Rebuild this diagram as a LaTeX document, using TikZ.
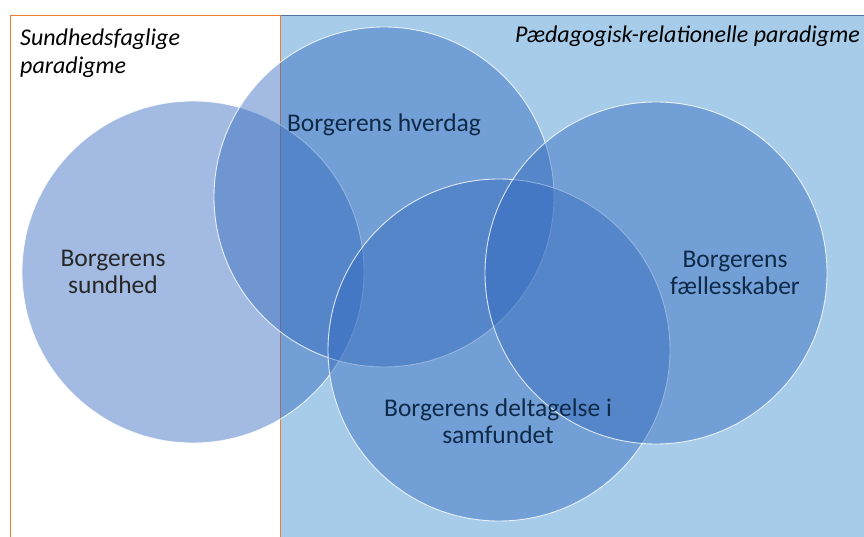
\documentclass[tikz,border=0pt]{standalone}
\usepackage{fontspec}
\setmainfont{Carlito}
\definecolor{orangeline}{RGB}{237,125,49}
\definecolor{paleblue}{RGB}{167,204,233}
\definecolor{paleborder}{RGB}{84,115,165}
\definecolor{circblue}{RGB}{50,105,190}
\definecolor{navytext}{RGB}{14,42,72}
\definecolor{graytext}{RGB}{38,38,38}
\tikzset{
  venn/.style={circle, minimum size=342pt, inner sep=0pt, fill=circblue, fill opacity=0.45, draw=white, draw opacity=0.8, line width=0.9pt},
  lbl/.style={font=\fontsize{25.5}{26.5}\selectfont, text=navytext, align=center, inner sep=0pt},
  ttl/.style={font=\fontsize{24}{28}\selectfont\itshape, text=black, inner sep=0pt}
}
\begin{document}
\begin{tikzpicture}[x=1pt,y=-1pt]
\useasboundingbox (0,0) rectangle (864,537);
\begin{scope}
\clip (0,0) rectangle (864,537);
\node[draw=paleborder, fill=paleblue, line width=0.9pt, minimum width=600pt, minimum height=560pt, anchor=north west, inner sep=0pt] (peda) at (280,15) {};
\node[draw=orangeline, line width=0.8pt, minimum width=270pt, minimum height=560pt, anchor=north west, inner sep=0pt] (sfag) at (10,15.5) {};
\node[venn] (sund) at (193,272) {};
\node[venn, minimum size=340pt] (hver) at (384,197) {};
\node[venn] (delt) at (499,350) {};
\node[venn] (faell) at (656,273) {};
\end{scope}
\node[ttl, anchor=base west, align=left] (t1) at (20,74) {Sundhedsfaglige\\paradigme};
\node[ttl, anchor=base east] (t2) at (860,43) {Pædagogisk-relationelle paradigme};
\node[lbl, text=graytext, anchor=base] (l1) at (113,293) {Borgerens\\sundhed};
\node[lbl, anchor=base] (l2) at (384,132) {Borgerens hverdag};
\node[lbl, anchor=base] (l3) at (735,294) {Borgerens\\fællesskaber};
\node[lbl, anchor=base] (l4) at (498,443) {Borgerens deltagelse i\\samfundet};
\end{tikzpicture}
\end{document}
